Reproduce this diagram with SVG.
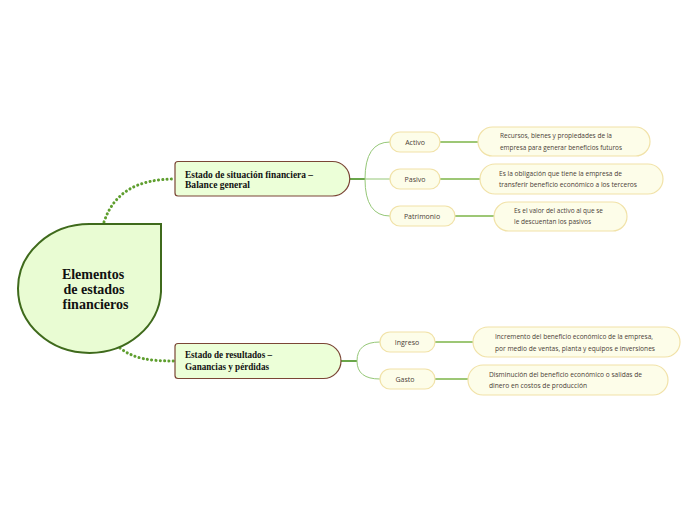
<svg xmlns="http://www.w3.org/2000/svg" width="696" height="520" viewBox="0 0 696 520">
<style>
.central{fill:#e9fcd3;stroke:#3f6a1c;stroke-width:2}
.branch{fill:#ecffd8;stroke:#7b4636;stroke-width:1.2}
.pill{fill:#fdfde9;stroke:#f1e2a8;stroke-width:1.2}
.leaf{fill:#fdfde9;stroke:#f1e2a8;stroke-width:1.2}
.dot{fill:none;stroke:#5e9e2e;stroke-width:3;stroke-dasharray:0.1 4.2;stroke-linecap:round}
.stub{fill:none;stroke:#6aa64a;stroke-width:2}
.sub{fill:none;stroke:#95c777;stroke-width:1}
.lf{fill:none;stroke:#7cb547;stroke-width:1.5}
.tc{font-family:"Liberation Serif","DejaVu Serif",serif;font-weight:bold;font-size:14px;fill:#111;text-anchor:middle}
.tb{font-family:"Liberation Serif","DejaVu Serif",serif;font-weight:bold;font-size:9.5px;fill:#111}
.tp{font-family:"Open Sans","Liberation Sans",sans-serif;font-size:7px;fill:#4a4036;text-anchor:middle}
.tl{font-family:"Open Sans","Liberation Sans",sans-serif;font-size:7px;fill:#4a4036}
</style>
<g id="connectors">
<path class="dot" d="M104,222 C114,192 138,179 175,179"/>
<path class="dot" d="M120,348 C134,359 150,361 175,361"/>
<path class="stub" d="M350,179 H365"/>
<path class="sub" d="M365,179 Q365,142 390,142"/>
<path class="sub" d="M365,179 H390"/>
<path class="sub" d="M365,179 Q365,216 390,216"/>
<path class="stub" d="M341,361 H357"/>
<path class="sub" d="M357,361 Q357,342 380,342"/>
<path class="sub" d="M357,361 Q357,379 380,379"/>
<path class="lf" d="M440,142 H478"/>
<path class="lf" d="M440,179 H480"/>
<path class="lf" d="M455,216 H494"/>
<path class="lf" d="M435,342 H473"/>
<path class="lf" d="M435,379 H468"/>
</g>
<g id="central">
<path class="central" d="M89.5,224 H161 V292 A71.5,64.5 0 0 1 89.5,353 A71.5,64.5 0 0 1 18,288.5 A71.5,64.5 0 0 1 89.5,224 Z"/>
<text class="tc" x="93" y="279">Elementos</text>
<text class="tc" x="94" y="294">de estados</text>
<text class="tc" x="95.5" y="309">financieros</text>
</g>
<g id="branch1">
<path class="branch" d="M178,161.5 H332.5 A17.25,17.25 0 0 1 332.5,196 H178 A3,3 0 0 1 175,193 V164.5 A3,3 0 0 1 178,161.5 Z"/>
<text class="tb" x="185" y="178" textLength="128" lengthAdjust="spacingAndGlyphs">Estado de situación financiera –</text>
<text class="tb" x="185" y="187.5" textLength="65" lengthAdjust="spacingAndGlyphs">Balance general</text>
</g>
<g id="branch2">
<path class="branch" d="M178,343.5 H323.5 A17.5,17.5 0 0 1 323.5,378.5 H178 A3,3 0 0 1 175,375.5 V346.5 A3,3 0 0 1 178,343.5 Z"/>
<text class="tb" x="185" y="358" textLength="87" lengthAdjust="spacingAndGlyphs">Estado de resultados –</text>
<text class="tb" x="185" y="369.5" textLength="84" lengthAdjust="spacingAndGlyphs">Ganancias y pérdidas</text>
</g>
<g id="activo">
<rect class="pill" x="390" y="132" width="50" height="20" rx="10"/>
<text class="tp" x="415" y="144.5">Activo</text>
</g>
<g id="pasivo">
<rect class="pill" x="390" y="169" width="50" height="20" rx="10"/>
<text class="tp" x="415" y="181.5">Pasivo</text>
</g>
<g id="patrimonio">
<rect class="pill" x="390" y="206" width="65" height="20" rx="10"/>
<text class="tp" x="422" y="218.5">Patrimonio</text>
</g>
<g id="ingreso">
<rect class="pill" x="380" y="332" width="55" height="20" rx="10"/>
<text class="tp" x="407" y="344.5">Ingreso</text>
</g>
<g id="gasto">
<rect class="pill" x="380" y="369" width="55" height="20" rx="10"/>
<text class="tp" x="405" y="381.5">Gasto</text>
</g>
<g id="leaf-activo">
<rect class="leaf" x="478" y="127" width="172" height="29" rx="14.5"/>
<text class="tl" x="500" y="137.5" textLength="112" lengthAdjust="spacingAndGlyphs">Recursos, bienes y propiedades de la</text>
<text class="tl" x="500" y="149.5" textLength="122" lengthAdjust="spacingAndGlyphs">empresa para generar beneficios futuros</text>
</g>
<g id="leaf-pasivo">
<rect class="leaf" x="480" y="164" width="183" height="30" rx="15"/>
<text class="tl" x="499" y="175.5" textLength="123" lengthAdjust="spacingAndGlyphs">Es la obligación que tiene la empresa de</text>
<text class="tl" x="499" y="187" textLength="138" lengthAdjust="spacingAndGlyphs">transferir beneficio económico a los terceros</text>
</g>
<g id="leaf-patrimonio">
<rect class="leaf" x="494" y="202" width="133" height="29" rx="14.5"/>
<text class="tl" x="514" y="212.5" textLength="89" lengthAdjust="spacingAndGlyphs">Es el valor del activo al que se</text>
<text class="tl" x="514" y="223.5" textLength="77" lengthAdjust="spacingAndGlyphs">le descuentan los pasivos</text>
</g>
<g id="leaf-ingreso">
<rect class="leaf" x="473" y="327" width="207" height="30" rx="15"/>
<text class="tl" x="495" y="338.5" textLength="158" lengthAdjust="spacingAndGlyphs">Incremento del beneficio económico de la empresa,</text>
<text class="tl" x="495" y="350.5" textLength="160" lengthAdjust="spacingAndGlyphs">por medio de ventas, planta y equipos e inversiones</text>
</g>
<g id="leaf-gasto">
<rect class="leaf" x="468" y="365" width="200" height="30" rx="15"/>
<text class="tl" x="489" y="376.5" textLength="153" lengthAdjust="spacingAndGlyphs">Disminución del beneficio económico o salidas de</text>
<text class="tl" x="489" y="388" textLength="98" lengthAdjust="spacingAndGlyphs">dinero en costos de producción</text>
</g>
</svg>
